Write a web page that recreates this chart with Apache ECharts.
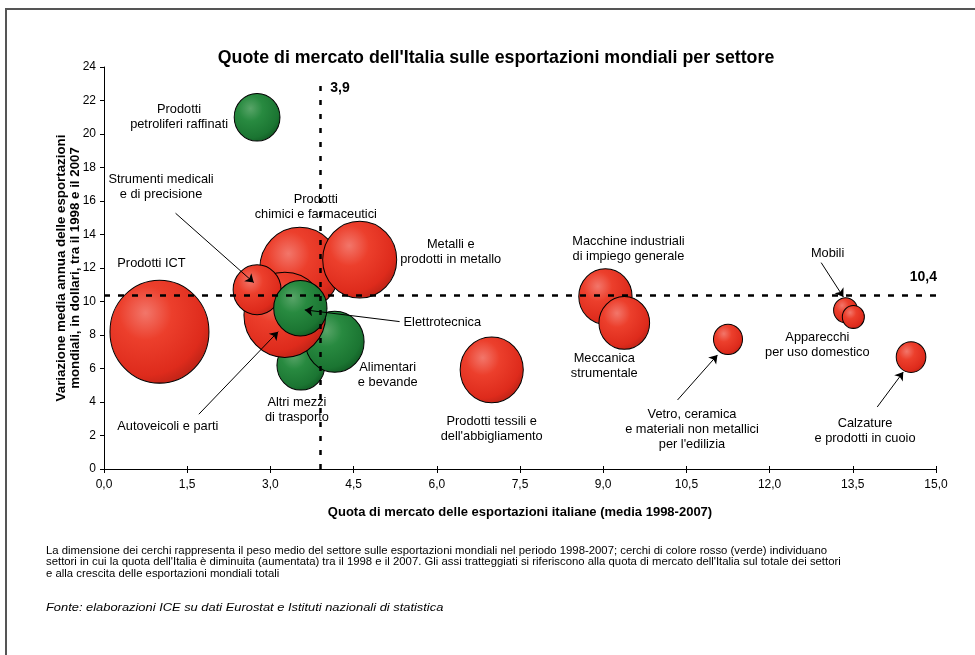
<!DOCTYPE html>
<html>
<head>
<meta charset="utf-8">
<script src="https://cdn.jsdelivr.net/npm/echarts@6/dist/echarts.min.js"></script>
<style>
html,body{margin:0;padding:0;background:#fff;}
#chart{width:975px;height:655px;}
</style>
</head>
<body>
<div id="chart"></div>
<script>
// ---- Data ----
const sectors = [
  "Prodotti ICT",
  "Prodotti\nchimici e farmaceutici",
  "Metalli e\nprodotti in metallo",
  "Altri mezzi\ndi trasporto",
  "Alimentari\ne bevande",
  "Autoveicoli e parti",
  "Strumenti medicali\ne di precisione",
  "Elettrotecnica",
  "Prodotti\npetroliferi raffinati",
  "Prodotti tessili e\ndell'abbigliamento",
  "Macchine industriali\ndi impiego generale",
  "Meccanica\nstrumentale",
  "Vetro, ceramica\ne materiali non metallici\nper l'edilizia",
  "Mobili",
  "Apparecchi\nper uso domestico",
  "Calzature\ne prodotti in cuoio"
];
// Quota di mercato delle esportazioni italiane (media 1998-2007)
const quota = [1.0, 3.53, 4.61, 3.55, 4.16, 3.26, 2.76, 3.54, 2.76, 6.99, 9.04, 9.38, 11.25, 13.37, 13.51, 14.55];
// Variazione media annua delle esportazioni mondiali 1998-2007
const crescita = [8.2, 11.95, 12.5, 6.2, 7.6, 9.2, 10.7, 9.6, 21.0, 5.92, 10.3, 8.72, 7.74, 9.48, 9.08, 6.68];
// Peso medio del settore sulle esportazioni mondiali (bubble area)
const peso = [14.5, 9.5, 8.1, 3.4, 5.1, 9.9, 3.4, 4.2, 3.1, 5.9, 4.2, 3.8, 1.25, 0.85, 0.72, 1.3];
// true = quota aumentata (verde), false = diminuita (rosso)
const aumentata = [false, false, false, true, true, false, false, true, true, false, false, false, false, false, false, false];
// Reference values (totale settori)
const quotaTotale = 3.9;
const crescitaTotale = 10.4;
const xTicks = ["0,0","1,5","3,0","4,5","6,0","7,5","9,0","10,5","12,0","13,5","15,0"];
const yTicks = [0,2,4,6,8,10,12,14,16,18,20,22,24];

// ---- Layout (label offsets in px, arrows) ----
const labelOffsets = [
  [-8,-68],[16,-62],[91,-8],[-4,45],[53,33],[-117,112],[-96,-103],[142,14],
  [-78,0],[0,59],[23,-47],[-20,43],[-36,90],[-18,-57],[-36,28],[-46,74]
];
const arrows = [
  [[1.29,15.27],[2.70,11.13]],
  [[5.33,8.80],[3.62,9.50]],
  [[1.71,3.27],[3.14,8.20]],
  [[10.34,4.12],[11.06,6.81]],
  [[12.93,12.32],[13.33,10.27]],
  [[13.94,3.70],[14.41,5.79]]
];

const redGrad = {type:'radial',x:0.36,y:0.32,r:0.75,colorStops:[
  {offset:0,color:'#f2766a'},{offset:0.35,color:'#ec3f2c'},{offset:0.8,color:'#de2b1c'},{offset:1,color:'#b82216'}]};
const greenGrad = {type:'radial',x:0.36,y:0.32,r:0.75,colorStops:[
  {offset:0,color:'#58a468'},{offset:0.35,color:'#288a40'},{offset:0.8,color:'#1b7532'},{offset:1,color:'#105822'}]};

const K = 26;
const bubbleData = sectors.map((s,i)=>{
  const d = K*Math.sqrt(peso[i]);
  return {
    name: s,
    value: [quota[i], crescita[i], peso[i]],
    symbolSize: [d, d*1.04],
    itemStyle: {color: aumentata[i] ? greenGrad : redGrad},
    label: {offset: labelOffsets[i]}
  };
});

const FONT = '"Liberation Sans", Arial, sans-serif';
const chart = echarts.init(document.getElementById('chart'), null, {renderer:'canvas'});

const option = {
  animation: false,
  textStyle: {fontFamily: FONT},
  grid: {left:104, right:39, top:67, bottom:186, containLabel:false},
  xAxis: [{
    type:'value', min:0, max:15, interval:1.5,
    axisLine:{show:true,lineStyle:{color:'#000',width:1}},
    axisTick:{show:true,length:4,lineStyle:{color:'#000'}},
    axisLabel:{color:'#000',fontSize:12,fontFamily:FONT,margin:10,
      formatter:(v)=>xTicks[Math.round(v/1.5)]},
    splitLine:{show:false},
    name:'Quota di mercato delle esportazioni italiane (media 1998-2007)',
    nameLocation:'middle', nameGap:37,
    nameTextStyle:{color:'#000',fontWeight:'bold',fontSize:13,fontFamily:FONT}
  },{
    type:'value', min:0, max:15, interval:1.5, position:'bottom',
    axisLine:{show:false},
    axisTick:{show:true,inside:true,length:3,lineStyle:{color:'#000'}},
    axisLabel:{show:false}, splitLine:{show:false}
  }],
  yAxis: {
    type:'value', min:0, max:24, interval:2,
    axisLine:{show:true,lineStyle:{color:'#000',width:1}},
    axisTick:{show:true,length:4,lineStyle:{color:'#000'}},
    axisLabel:{color:'#000',fontSize:12,fontFamily:FONT,margin:8,
      formatter:(v)=>String(yTicks[Math.round(v/2)])},
    splitLine:{show:false}
  },
  series: [{
    type:'scatter',
    data: bubbleData,
    itemStyle:{borderColor:'#000',borderWidth:1,opacity:1},
    label:{show:true, position:'inside', formatter:(p)=>p.name,
      color:'#000', fontSize:12.8, lineHeight:15, fontFamily:FONT, align:'center'},
    emphasis:{disabled:true},
    z:2
  },{
    type:'line', data:[], silent:true, z:5,
    markLine:{
      silent:true, symbol:['none','none'],
      label:{show:false},
      data:[
        [{coord:[quotaTotale,0],lineStyle:{type:[5,9],width:2.5,color:'#000'}},{coord:[quotaTotale,23]}],
        [{coord:[0,crescitaTotale],lineStyle:{type:[6,8],width:2.5,color:'#000'}},{coord:[15,crescitaTotale]}]
      ],
      animation:false
    }
  },{
    type:'line', data:[], silent:true, z:6,
    markLine:{
      silent:true, symbol:['none','arrow'], symbolSize:8,
      label:{show:false},
      lineStyle:{type:'solid',color:'#000',width:1},
      data: arrows.map(a=>[{coord:a[0]},{coord:a[1]}]),
      animation:false
    }
  }]
};
chart.setOption(option);

const p39 = chart.convertToPixel({xAxisIndex:0,yAxisIndex:0},[quotaTotale,23]);
const p104 = chart.convertToPixel({xAxisIndex:0,yAxisIndex:0},[15,crescitaTotale]);

chart.setOption({
  graphic: [
    {type:'rect', shape:{x:6,y:9,width:1000,height:700}, style:{fill:'none',stroke:'#555',lineWidth:2}, silent:true},
    {type:'text', x:496, y:58, style:{text:"Quote di mercato dell'Italia sulle esportazioni mondiali per settore",
      font:'bold 17.8px '+FONT, fill:'#000', textAlign:'center', textVerticalAlign:'middle'}},
    {type:'text', x:68, y:268, rotation:Math.PI/2, style:{text:"Variazione media annua delle esportazioni\nmondiali, in dollari, tra il 1998 e il 2007",
      font:'bold 13.3px '+FONT, fill:'#000', textAlign:'center', textVerticalAlign:'middle', lineHeight:14}},
    {type:'text', x:p39[0]+10, y:p39[1]+4, style:{text:"3,9", font:'bold 14px '+FONT, fill:'#000', textAlign:'left', textVerticalAlign:'middle'}},
    {type:'text', x:p104[0]+1, y:p104[1]-18, style:{text:"10,4", font:'bold 14px '+FONT, fill:'#000', textAlign:'right', textVerticalAlign:'middle'}},
    {type:'text', x:46, y:545, scaleX:1.08, style:{text:"La dimensione dei cerchi rappresenta il peso medio del settore sulle esportazioni mondiali nel periodo 1998-2007; cerchi di colore rosso (verde) individuano\nsettori in cui la quota dell'Italia è diminuita (aumentata) tra il 1998 e il 2007. Gli assi tratteggiati si riferiscono alla quota di mercato dell'Italia sul totale dei settori\ne alla crescita delle esportazioni mondiali totali",
      font:'10.5px '+FONT, fill:'#000', textAlign:'left', textVerticalAlign:'top', lineHeight:11.5}},
    {type:'text', x:46, y:602, scaleX:1.12, style:{text:"Fonte: elaborazioni ICE su dati Eurostat e Istituti nazionali di statistica",
      font:'italic 11.5px '+FONT, fill:'#000', textAlign:'left', textVerticalAlign:'top'}}
  ]
});
</script>
</body>
</html>
